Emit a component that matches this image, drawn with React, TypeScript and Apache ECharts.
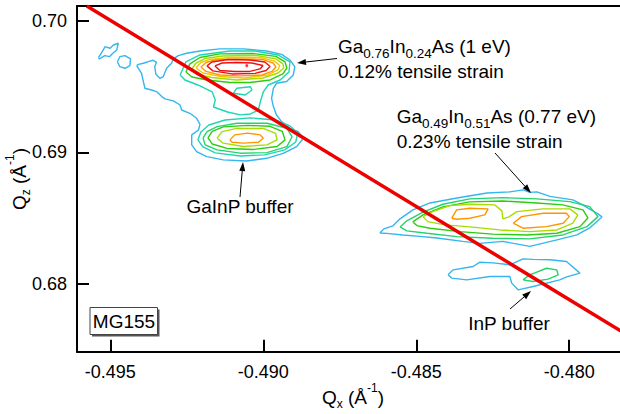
import React, { useEffect, useRef } from "react";
import * as echarts from "echarts";

// ---- axes ----
const X_RANGE = [-0.49609, -0.47834];
const Y_RANGE = [0.67486, 0.70112];
const X_TICKS = [-0.495, -0.49, -0.485, -0.48];
const Y_TICKS = [0.68, 0.69, 0.7];

// ---- contour levels (outer -> inner) ----
const LEVEL_COLORS = ["#35b6ee", "#1fd6b0", "#22d46e", "#2ccc10", "#a8dc00", "#f2c800", "#ff9600", "#ee1010"];

// ---- contour polylines [Qx, Qz] ----
const BIG_BLUE = [[-0.49414,0.69659],[-0.49398,0.69601],[-0.49392,0.69538],[-0.49387,0.69487],[-0.49365,0.69474],[-0.49349,0.69462],[-0.49332,0.69424],[-0.49321,0.69406],[-0.49294,0.69391],[-0.49272,0.6936],[-0.49267,0.69322],[-0.4924,0.69297],[-0.49218,0.69259],[-0.49207,0.69213],[-0.49212,0.6917],[-0.49234,0.69133],[-0.49234,0.69057],[-0.49218,0.69006],[-0.49185,0.68968],[-0.49131,0.68943],[-0.49055,0.68935],[-0.48989,0.68955],[-0.48935,0.68993],[-0.48891,0.69044],[-0.48869,0.69107],[-0.48886,0.69158],[-0.48913,0.69183],[-0.4894,0.69234],[-0.48957,0.69284],[-0.48967,0.69348],[-0.48973,0.69411],[-0.48967,0.69487],[-0.48957,0.69525],[-0.48924,0.69538],[-0.48902,0.69588],[-0.48897,0.69651],[-0.48913,0.69702],[-0.4894,0.69745],[-0.48989,0.6977],[-0.49065,0.69786],[-0.49142,0.69786],[-0.49207,0.6977],[-0.49251,0.69753],[-0.49278,0.69735],[-0.49294,0.6971],[-0.493,0.69677],[-0.49316,0.69639],[-0.49327,0.69576],[-0.49338,0.69563],[-0.49351,0.69593],[-0.49355,0.69651],[-0.49349,0.69684],[-0.4936,0.697],[-0.49376,0.69689],[-0.49392,0.69677],[-0.49408,0.69669]];
const LEFT_LOOP = [[-0.49539,0.6972],[-0.49523,0.69778],[-0.49518,0.69803],[-0.49501,0.69791],[-0.4949,0.69816],[-0.49474,0.69829],[-0.49479,0.69778],[-0.49492,0.69753],[-0.49503,0.69727],[-0.49518,0.69735],[-0.49536,0.6971]];
const LEFT_RING = [[-0.49477,0.69689],[-0.49469,0.69727],[-0.49452,0.69735],[-0.49434,0.6971],[-0.49436,0.69659],[-0.49452,0.69639],[-0.49469,0.69651]];
const TOP_TEAL = [[-0.49272,0.69588],[-0.49253,0.69687],[-0.49207,0.6974],[-0.49109,0.6977],[-0.49027,0.6977],[-0.48952,0.6974],[-0.48913,0.69687],[-0.48916,0.69611],[-0.48945,0.6955],[-0.48984,0.69512],[-0.49,0.69459],[-0.4901,0.69383],[-0.49016,0.69322],[-0.49042,0.69292],[-0.49075,0.69285],[-0.49117,0.69307],[-0.49163,0.69345],[-0.49157,0.69398],[-0.49167,0.69459],[-0.49214,0.69512],[-0.49256,0.6955]];
const TEAL_HUMP = [[-0.49098,0.69449],[-0.49087,0.69487],[-0.49042,0.69499],[-0.49037,0.69474],[-0.49059,0.69436]];
const TOP_GREEN = [[-0.49253,0.69611],[-0.4924,0.69672],[-0.49207,0.69721],[-0.49142,0.69748],[-0.49034,0.69751],[-0.48959,0.69729],[-0.48929,0.69687],[-0.48923,0.69641],[-0.48936,0.69596],[-0.48978,0.6955],[-0.49044,0.69531],[-0.49109,0.69531],[-0.49184,0.6955],[-0.49233,0.69573]];
const TOP_YG = [[-0.49236,0.69626],[-0.4922,0.69679],[-0.49191,0.69713],[-0.49132,0.69732],[-0.49021,0.69736],[-0.48959,0.6971],[-0.48936,0.69672],[-0.48933,0.69641],[-0.48952,0.69603],[-0.49001,0.69565],[-0.49086,0.6955],[-0.49168,0.69569],[-0.49217,0.69592]];
const TOP_YELLOW = [[-0.4922,0.69641],[-0.49204,0.69683],[-0.49174,0.69706],[-0.49109,0.69721],[-0.49011,0.69721],[-0.48965,0.69695],[-0.48946,0.6966],[-0.48952,0.69626],[-0.48985,0.69588],[-0.4906,0.69565],[-0.49142,0.69577],[-0.49197,0.69603]];
const TOP_ORANGE = [[-0.49204,0.69649],[-0.49187,0.69683],[-0.49158,0.69702],[-0.49086,0.6971],[-0.49004,0.69706],[-0.48968,0.69679],[-0.48959,0.69649],[-0.48972,0.69615],[-0.49004,0.69588],[-0.49076,0.69581],[-0.49142,0.69588],[-0.49187,0.69615]];
const TOP_RED_OUT = [[-0.49184,0.69657],[-0.49168,0.69687],[-0.49116,0.69706],[-0.49044,0.69702],[-0.48995,0.69687],[-0.48978,0.69653],[-0.48991,0.69622],[-0.49027,0.696],[-0.49102,0.69596],[-0.49165,0.69619]];
const TOP_RED_IN = [[-0.49158,0.69657],[-0.49135,0.69679],[-0.49086,0.69683],[-0.49037,0.69679],[-0.49001,0.6966],[-0.49011,0.69634],[-0.49044,0.69615],[-0.49093,0.69615],[-0.49142,0.69622]];
const TOP_MAX = [[-0.49054, 0.69659]];
const GAINP_TEAL = [[-0.49214,0.69095],[-0.49204,0.69155],[-0.49178,0.69208],[-0.49125,0.69246],[-0.49042,0.69262],[-0.4896,0.69246],[-0.48913,0.69201],[-0.48887,0.69148],[-0.48894,0.69079],[-0.4893,0.69019],[-0.48995,0.68981],[-0.49075,0.68973],[-0.49157,0.68996],[-0.49197,0.69041]];
const GAINP_L3 = [[-0.49197,0.6911],[-0.49184,0.69158],[-0.49151,0.69196],[-0.49086,0.69221],[-0.48988,0.69221],[-0.48923,0.69183],[-0.48906,0.69119],[-0.48923,0.69044],[-0.48988,0.68998],[-0.49075,0.68994],[-0.49151,0.69019],[-0.4919,0.69057]];
const GAINP_L4 = [[-0.49181,0.6911],[-0.49167,0.6916],[-0.49131,0.69194],[-0.49052,0.69205],[-0.48978,0.69198],[-0.48938,0.6916],[-0.48929,0.69095],[-0.48955,0.69045],[-0.49033,0.69022],[-0.49118,0.6903],[-0.49167,0.69064]];
const GAINP_L5 = [[-0.49151,0.69108],[-0.49135,0.69158],[-0.49086,0.69182],[-0.49,0.69182],[-0.4896,0.69145],[-0.48955,0.69095],[-0.48988,0.69057],[-0.49065,0.69045],[-0.49131,0.6907]];
const GAINP_L6 = [[-0.49109,0.69095],[-0.49093,0.69133],[-0.49052,0.69146],[-0.4901,0.69133],[-0.49,0.69108],[-0.49016,0.69077],[-0.49065,0.6907],[-0.49102,0.69077]];
const BR_BLUE = [[-0.48619,0.68388],[-0.48606,0.68419],[-0.48576,0.68442],[-0.48553,0.68495],[-0.48511,0.68563],[-0.48455,0.68616],[-0.48367,0.68654],[-0.48269,0.68692],[-0.48194,0.687],[-0.48151,0.68715],[-0.48129,0.68696],[-0.48106,0.687],[-0.48063,0.68666],[-0.47988,0.68639],[-0.47962,0.68609],[-0.47906,0.68533],[-0.47893,0.6851],[-0.47933,0.68426],[-0.47975,0.68373],[-0.4804,0.68335],[-0.48129,0.68286],[-0.48217,0.68324],[-0.48292,0.68309],[-0.48348,0.68324],[-0.48433,0.6835],[-0.48488,0.68362],[-0.48544,0.68373],[-0.48596,0.68385]];
const BR_L2 = [[-0.48553,0.68434],[-0.48531,0.6848],[-0.48478,0.68546],[-0.48413,0.68606],[-0.48325,0.68647],[-0.48217,0.68656],[-0.48106,0.68647],[-0.47998,0.68626],[-0.47933,0.68588],[-0.47906,0.68512],[-0.47942,0.68436],[-0.48021,0.68373],[-0.48129,0.68343],[-0.4825,0.68348],[-0.48367,0.6836],[-0.48465,0.68386],[-0.48531,0.68404]];
const BR_L3 = [[-0.48511,0.68472],[-0.48478,0.68525],[-0.48413,0.68586],[-0.48325,0.68624],[-0.48217,0.68631],[-0.48106,0.68616],[-0.48021,0.68601],[-0.47955,0.68563],[-0.47939,0.68502],[-0.47965,0.68436],[-0.4804,0.68386],[-0.48138,0.68373],[-0.4825,0.68379],[-0.48357,0.68398],[-0.48455,0.68424],[-0.48498,0.68444]];
const BR_L4 = [[-0.48478,0.68512],[-0.48446,0.6855],[-0.4839,0.68596],[-0.48325,0.68606],[-0.48243,0.68601],[-0.4822,0.68556],[-0.48217,0.68495],[-0.48197,0.6851],[-0.48171,0.6855],[-0.48086,0.68571],[-0.47998,0.68571],[-0.47972,0.68525],[-0.47988,0.68462],[-0.4804,0.68411],[-0.48129,0.68398],[-0.48227,0.68411],[-0.48325,0.68434],[-0.48406,0.68449],[-0.48462,0.68474]];
const BR_PEAK_A = [[-0.48384,0.685],[-0.48368,0.68563],[-0.48325,0.68576],[-0.48265,0.68571],[-0.48276,0.68525],[-0.48325,0.685],[-0.48368,0.68492]];
const BR_PEAK_B = [[-0.48183,0.68462],[-0.48156,0.68512],[-0.48085,0.68538],[-0.48009,0.68538],[-0.48,0.68512],[-0.4802,0.68462],[-0.48074,0.68436],[-0.48151,0.68424]];
const INP_BLUE = [[-0.48396,0.6807],[-0.48379,0.68108],[-0.48314,0.68133],[-0.48292,0.68166],[-0.48249,0.68161],[-0.48194,0.68146],[-0.48151,0.68191],[-0.48118,0.68187],[-0.48063,0.68184],[-0.48009,0.68171],[-0.47965,0.68083],[-0.48008,0.68054],[-0.48031,0.68032],[-0.48118,0.67981],[-0.48167,0.67956],[-0.48188,0.68007],[-0.48194,0.68057],[-0.48259,0.68057],[-0.48335,0.68032],[-0.48384,0.68045]];
const INP_L2 = [[-0.48151,0.68032],[-0.48129,0.6807],[-0.48074,0.6812],[-0.48041,0.68108],[-0.48036,0.6807],[-0.48069,0.68037],[-0.48118,0.68019]];

// relaxation line
const RELAX_LINE = [[-0.49577, 0.70112], [-0.478, 0.67599]];

// contour list: [points, level]
const CONTOURS: [number[][], number][] = [
  [BIG_BLUE, 0], [LEFT_LOOP, 0], [LEFT_RING, 0],
  [TOP_TEAL, 1], [TEAL_HUMP, 1], [TOP_GREEN, 3], [TOP_YG, 4], [TOP_YELLOW, 5], [TOP_ORANGE, 6], [TOP_RED_OUT, 7], [TOP_RED_IN, 7],
  [GAINP_TEAL, 1], [GAINP_L3, 2], [GAINP_L4, 3], [GAINP_L5, 4], [GAINP_L6, 6],
  [BR_BLUE, 0], [BR_L2, 2], [BR_L3, 3], [BR_L4, 4], [BR_PEAK_A, 6], [BR_PEAK_B, 6],
  [INP_BLUE, 0], [INP_L2, 2],
];

const FONT = "'Liberation Sans', Arial, Helvetica, sans-serif";

function rich(subSize: number, subShift: number, supShift: number) {
  return {
    sub: { fontSize: subSize, fontFamily: FONT, fill: "#000", padding: [subShift * 2, 0, 0, 0] },
    sup: { fontSize: subSize, fontFamily: FONT, fill: "#000", padding: [0, 0, supShift * 2, 0] },
  };
}

function label(x: number, y: number, text: string, align = "left", rotation = 0, size = 19) {
  return {
    type: "text",
    x, y, rotation, z: 20,
    style: {
      text, fontSize: size, fontFamily: FONT, fill: "#000", align, verticalAlign: "middle",
      rich: rich(size === 19 && text.includes("Q") ? 12 : 13.5, 7, 9.5),
    },
  };
}

function arrow(x1: number, y1: number, x2: number, y2: number) {
  const dx = x2 - x1, dy = y2 - y1;
  const len = Math.hypot(dx, dy);
  const ux = dx / len, uy = dy / len;
  const hl = 9, hw = 3;
  const bx = x2 - ux * hl, by = y2 - uy * hl;
  return [
    { type: "line", z: 20, shape: { x1, y1, x2: bx, y2: by }, style: { stroke: "#000", lineWidth: 1 } },
    {
      type: "polygon", z: 20,
      shape: { points: [[x2, y2], [bx - uy * hw, by + ux * hw], [bx + uy * hw, by - ux * hw]] },
      style: { fill: "#000" },
    },
  ];
}

export default function App() {
  const ref = useRef<HTMLDivElement>(null);
  useEffect(() => {
    if (!ref.current) return;
    const chart = echarts.init(ref.current, undefined, { renderer: "svg" });
    const series: any[] = CONTOURS.map(([pts, lvl], i) => ({
      type: "line",
      name: "c" + i,
      data: [...pts, pts[0]],
      symbol: "none",
      silent: true,
      z: 2,
      lineStyle: { color: LEVEL_COLORS[lvl], width: 1.4 },
    }));
    series.push({
      type: "scatter", data: TOP_MAX, symbolSize: 3, itemStyle: { color: "#ee1010" }, silent: true, z: 3,
    });
    series.push({
      type: "line", data: RELAX_LINE, symbol: "none", silent: true, z: 5, clip: true,
      lineStyle: { color: "#ee0000", width: 3.5 },
    });

    const graphic: any[] = [
      label(19, 179, "Q{sub|z} (Å{sup|-1})", "center", Math.PI / 2),
      label(353, 397, "Q{sub|x} (Å{sup|-1})", "center"),
      label(338, 46.7, "Ga{sub|0.76}In{sub|0.24}As (1 eV)"),
      label(338, 71.7, "0.12% tensile strain"),
      label(396.7, 116.7, "Ga{sub|0.49}In{sub|0.51}As (0.77 eV)"),
      label(396.7, 141.7, "0.23% tensile strain"),
      label(240, 206.5, "GaInP buffer", "center"),
      label(509, 323.3, "InP buffer", "center"),
      { type: "rect", z: 19, shape: { x: 92, y: 309.5, width: 67.5, height: 27 }, style: { fill: "#555" } },
      { type: "rect", z: 19, shape: { x: 90, y: 307.5, width: 67.5, height: 27 }, style: { fill: "#fff", stroke: "#444", lineWidth: 1 } },
      label(124, 321.5, "MG155", "center"),
      ...arrow(337, 58.5, 297, 63),
      ...arrow(495, 153, 531, 193),
      ...arrow(240, 197, 243, 162),
      ...arrow(510, 309, 531, 291),
    ];

    chart.setOption({
      animation: false,
      grid: { left: 77, right: 0, top: 6, bottom: 62.3, containLabel: false },
      xAxis: [
        {
          type: "value", min: X_RANGE[0], max: X_RANGE[1], position: "bottom",
          axisLine: { show: true, onZero: false, lineStyle: { color: "#000", width: 2 } },
          axisTick: { show: true, inside: true, length: 12, customValues: X_TICKS, lineStyle: { color: "#000", width: 2 } },
          axisLabel: {
            show: true, customValues: X_TICKS, margin: 11, fontSize: 18, fontFamily: FONT, color: "#000",
            formatter: (v: number) => v.toFixed(3),
          },
          splitLine: { show: false },
        },
        {
          type: "value", min: X_RANGE[0], max: X_RANGE[1], position: "top",
          axisLine: { show: true, onZero: false, lineStyle: { color: "#000", width: 2 } },
          axisTick: { show: false }, axisLabel: { show: false }, splitLine: { show: false },
        },
      ],
      yAxis: {
        type: "value", min: Y_RANGE[0], max: Y_RANGE[1],
        axisLine: { show: true, onZero: false, lineStyle: { color: "#000", width: 2 } },
        axisTick: { show: true, inside: true, length: 12, customValues: Y_TICKS, lineStyle: { color: "#000", width: 2 } },
        axisLabel: {
          show: true, customValues: Y_TICKS, margin: 10, fontSize: 18, fontFamily: FONT, color: "#000",
          formatter: (v: number) => v.toFixed(2),
        },
        splitLine: { show: false },
      },
      series,
      graphic,
    });
    return () => chart.dispose();
  }, []);
  return (
    <div
      ref={ref}
      style={{ position: "absolute", left: 0, top: 0, width: 620, height: 414, background: "#fff" }}
    />
  );
}
